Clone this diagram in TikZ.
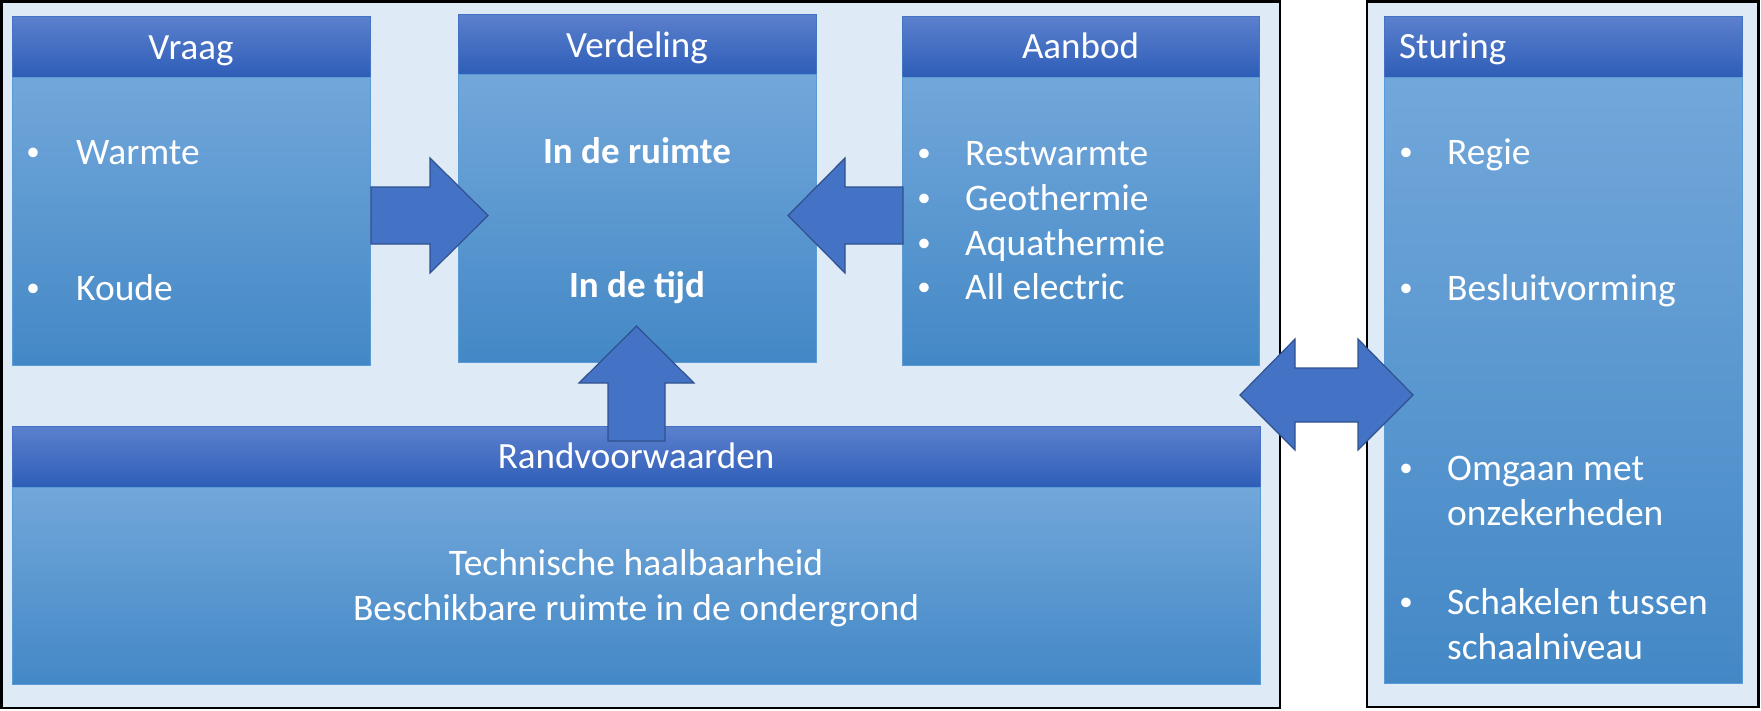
\documentclass[tikz,border=0pt]{standalone}
\usepackage{fontspec}
\setmainfont{Carlito}
\definecolor{framefill}{RGB}{222,234,246}
\definecolor{hdtop}{RGB}{92,128,205}
\definecolor{hdbot}{RGB}{46,94,184}
\definecolor{hdline}{RGB}{68,114,196}
\definecolor{bdtop}{RGB}{114,167,218}
\definecolor{bdbot}{RGB}{67,136,198}
\definecolor{bdline}{RGB}{91,155,213}
\definecolor{arrfill}{RGB}{68,114,196}
\definecolor{arrline}{RGB}{47,82,143}
\tikzset{
  framebox/.style={draw=black, line width=2.5pt, fill=framefill},
  hdshade/.style={top color=hdtop, bottom color=hdbot, draw=hdline, line width=0.8pt},
  bdshade/.style={top color=bdtop, bottom color=bdbot, draw=bdline, line width=0.8pt},
  blockarrow/.style={fill=arrfill, draw=arrline, line width=1.2pt, line join=miter},
  hdtext/.style={text=white, font=\fontsize{37}{45}\selectfont, inner sep=0pt, anchor=base},
  bodytext/.style={text=white, font=\fontsize{37.5}{45}\selectfont, inner sep=0pt, anchor=base west},
  ctrtext/.style={text=white, font=\fontsize{37.5}{45}\selectfont, inner sep=0pt, anchor=base},
  bulletmark/.style={text=white, font=\fontsize{27}{30}\selectfont, inner sep=0pt, anchor=base, yshift=3.5pt},
  boldtext/.style={text=white, font=\bfseries\fontsize{37}{45}\selectfont, inner sep=0pt, anchor=base},
}
\begin{document}
\begin{tikzpicture}[x=1pt,y=-1pt]
\useasboundingbox (0,0) rectangle (1761,710);
% outer frames
\draw[framebox] (1.25,1.25) rectangle (1280,708);
\draw[framebox] (1367,1.25) rectangle (1758.5,707);

% Vraag
\draw[hdshade] (12,16) rectangle (370,77);
\draw[bdshade] (12,77) rectangle (370,365);
% Verdeling
\draw[hdshade] (458,14) rectangle (816,74);
\draw[bdshade] (458,74) rectangle (816,362);
% Aanbod
\draw[hdshade] (902,16) rectangle (1259,77);
\draw[bdshade] (902,77) rectangle (1259,365);
% Sturing
\draw[hdshade] (1384,16) rectangle (1742,77);
\draw[bdshade] (1384,77) rectangle (1742,683);
% Randvoorwaarden
\draw[hdshade] (12,426) rectangle (1260,487);
\draw[bdshade] (12,487) rectangle (1260,684);

% block arrows
\draw[blockarrow] (371,187) -- (430,187) -- (430,158) -- (488,215.5) -- (430,273) -- (430,244) -- (371,244) -- cycle;
\draw[blockarrow] (903,187) -- (845,187) -- (845,158) -- (788,215.5) -- (845,273) -- (845,244) -- (903,244) -- cycle;
\draw[blockarrow] (608,441) -- (608,383) -- (579,383) -- (636.5,326) -- (694,383) -- (665,383) -- (665,441) -- cycle;
\draw[blockarrow] (1240,395) -- (1295,339) -- (1295,368) -- (1358,368) -- (1358,339) -- (1413,395)
  -- (1358,450) -- (1358,422) -- (1295,422) -- (1295,450) -- cycle;

% header texts
\node[hdtext] (vraagH) at (191,59) {Vraag};
\node[hdtext] (verdH) at (637,57) {Verdeling};
\node[hdtext] (aanH) at (1080.5,58) {Aanbod};
\node[hdtext, anchor=base west] (stuH) at (1399,58) {Sturing};
\node[hdtext] (randH) at (636,468) {Randvoorwaarden};

% Vraag body
\node[bulletmark] (vb1) at (33,164) {•};
\node[bodytext] (vt1) at (76,164) {Warmte};
\node[bulletmark] (vb2) at (33,300) {•};
\node[bodytext] (vt2) at (76,300) {Koude};

% Verdeling body
\node[boldtext] (dt1) at (637,163) {In de ruimte};
\node[boldtext] (dt2) at (637,297) {In de tijd};

% Aanbod body
\node[bulletmark] (ab1) at (924,165) {•};
\node[bodytext] (at1) at (965,165) {Restwarmte};
\node[bulletmark] (ab2) at (924,210) {•};
\node[bodytext] (at2) at (965,210) {Geothermie};
\node[bulletmark] (ab3) at (924,255) {•};
\node[bodytext] (at3) at (965,255) {Aquathermie};
\node[bulletmark] (ab4) at (924,299) {•};
\node[bodytext] (at4) at (965,299) {All electric};

% Sturing body
\node[bulletmark] (sb1) at (1406,164) {•};
\node[bodytext] (st1) at (1447,164) {Regie};
\node[bulletmark] (sb2) at (1406,300) {•};
\node[bodytext] (st2) at (1447,300) {Besluitvorming};
\node[bulletmark] (sb3) at (1406,480) {•};
\node[bodytext] (st3) at (1447,480) {Omgaan met};
\node[bodytext] (st3b) at (1447,525) {onzekerheden};
\node[bulletmark] (sb4) at (1406,614) {•};
\node[bodytext] (st4) at (1447,614) {Schakelen tussen};
\node[bodytext] (st4b) at (1447,659) {schaalniveau};

% Randvoorwaarden body
\node[ctrtext] (rt1) at (636,575) {Technische haalbaarheid};
\node[ctrtext] (rt2) at (636,620) {Beschikbare ruimte in de ondergrond};
\end{tikzpicture}
\end{document}
